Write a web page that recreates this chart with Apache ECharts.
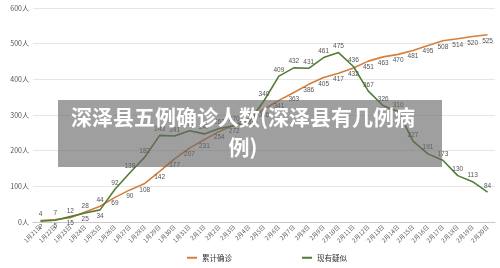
<!DOCTYPE html>
<html><head><meta charset="utf-8">
<script src="https://cdn.jsdelivr.net/npm/echarts@6/dist/echarts.min.js"></script>
<style>html,body{margin:0;padding:0;background:#fff}#c{width:500px;height:268px}</style>
</head><body><div id="c"></div>
<script>
const categories = ["1月21日","1月22日","1月23日","1月24日","1月25日","1月26日","1月27日","1月28日","1月29日","1月30日","1月31日","2月1日","2月2日","2月3日","2月4日","2月5日","2月6日","2月7日","2月8日","2月9日","2月10日","2月11日","2月12日","2月13日","2月14日","2月15日","2月16日","2月17日","2月18日","2月19日","2月20日"];
const confirmed = [4,7,12,28,44,69,90,108,142,177,207,231,254,272,291,316,341,363,386,405,417,432,451,463,470,481,495,508,514,520,525];
const suspected = [2,5,15,25,34,92,138,182,243,241,256,247,262,270,281,340,409,432,431,461,475,436,367,326,310,227,191,173,130,113,84];
const seriesNames = ["累计确诊","现有疑似"];
const titleText = "深泽县五例确诊人数(深泽县有几例病\n例)";

const FONT = "'Liberation Sans','Noto Sans CJK SC',sans-serif";
// labels: before the suspected line clearly overtakes, confirmed labels sit above; afterwards below
const cross = suspected.findIndex((v,i)=>v>confirmed[i] && suspected[i+1]>confirmed[i+1]);
function mk(vals, upperFirst){
  return vals.map((v,i)=>({value:v,label:{position: (i<cross)===upperFirst ? 'top' : 'bottom'}}));
}
const chart = echarts.init(document.getElementById('c'));
chart.setOption({
  animation:false,
  textStyle:{fontFamily:FONT},
  grid:{left:33,right:5,top:8,bottom:46},
  legend:{left:182,top:249,itemWidth:10,itemHeight:2,itemGap:70,icon:'rect',
    textStyle:{fontSize:7.5,color:'#333',fontFamily:"'Noto Sans CJK SC',sans-serif"},
    data:seriesNames},
  xAxis:{type:'category',data:categories,boundaryGap:true,
    axisLine:{lineStyle:{color:'#c8c8c8'}},axisTick:{show:false},
    axisLabel:{rotate:45,fontSize:6,color:'#555',interval:0,margin:4,fontFamily:"'Noto Sans CJK SC',sans-serif"}},
  yAxis:{type:'value',min:0,max:600,interval:100,
    axisLabel:{formatter:'{value}人',fontSize:7,color:'#555',margin:4,fontFamily:"'Noto Sans CJK SC',sans-serif"},
    splitLine:{lineStyle:{color:'#e6e6e6'}},axisLine:{show:false},axisTick:{show:false}},
  series:[
    {name:seriesNames[0],type:'line',data:mk(confirmed,true),symbol:'circle',symbolSize:0,
     lineStyle:{color:'#D47E3C',width:1.6},itemStyle:{color:'#D47E3C'},
     label:{show:true,fontSize:6.5,color:'#555',distance:3}},
    {name:seriesNames[1],type:'line',data:mk(suspected,false),symbol:'circle',symbolSize:0,
     lineStyle:{color:'#527D33',width:1.6},itemStyle:{color:'#527D33'},
     label:{show:true,fontSize:6.5,color:'#555',distance:3}}
  ],
  graphic:[
    {type:'rect',z:100,shape:{x:58,y:100,width:384,height:67},style:{fill:'rgba(100,100,100,0.62)'}},
    {type:'text',z:101,x:243,y:102,style:{text:titleText,fill:'#fff',align:'center',
      font:"bold 21px 'Noto Sans CJK SC',sans-serif",lineHeight:30}}
  ]
});
</script></body></html>
